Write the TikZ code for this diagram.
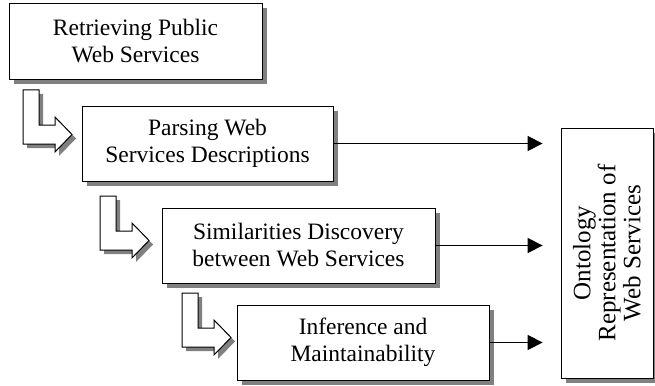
\documentclass[tikz,border=0pt]{standalone}
\usepackage{fontspec}
\setmainfont{Liberation Serif}
\usetikzlibrary{shadows,arrows.meta,calc}
\definecolor{shadowgray}{RGB}{128,128,128}
\tikzset{
  stepbox/.style={draw=black, fill=white, line width=0.8pt, align=center,
    font=\fontsize{23.5}{27}\selectfont, inner sep=0pt,
    drop shadow={shadow xshift=5pt, shadow yshift=-5pt, fill=shadowgray, opacity=1}},
  flow/.style={line width=1.3pt, -{Triangle[length=15pt,width=15pt]}},
  bentarrow/.pic={
    \fill[shadowgray, shift={(4,4)}] (0,0) -- (16,0) -- (16,35) -- (32,35) -- (32,27) -- (49,44.5) -- (32,62) -- (32,54) -- (0,54) -- cycle;
    \draw[fill=white, line width=1pt] (0,0) -- (16,0) -- (16,35) -- (32,35) -- (32,27) -- (49,44.5) -- (32,62) -- (32,54) -- (0,54) -- cycle;
  }
}
\begin{document}
\begin{tikzpicture}[x=1pt,y=-1pt]
\useasboundingbox (0,0) rectangle (655,385);
\node[stepbox, minimum width=253pt, minimum height=76pt] (b1) at (135.5,41) {Retrieving Public\\Web Services};
\node[stepbox, minimum width=251pt, minimum height=75pt] (b2) at (207.5,143.5) {Parsing Web\\Services Descriptions};
\node[stepbox, minimum width=273pt, minimum height=75pt] (b3) at (298.5,245.5) {Similarities Discovery\\between Web Services};
\node[stepbox, minimum width=252pt, minimum height=75pt] (b4) at (363,342.5) {Inference and\\Maintainability};
\node[stepbox, minimum width=92pt, minimum height=250pt] (o) at (607,253) {};
\node[rotate=90, align=center, font=\fontsize{25}{25}\selectfont] (ot) at (o.center) {Ontology\\Representation of\\Web Services};
\pic at (23,90) {bentarrow};
\pic at (100,196) {bentarrow};
\pic at (182,293) {bentarrow};
\coordinate (t2) at ($(b2.east -| o.west)+(-18,0)$);
\coordinate (t3) at ($(b3.east -| o.west)+(-18,0)$);
\coordinate (t4) at ($(b4.east -| o.west)+(-18,0)$);
\draw[flow] (b2.east) -- (t2);
\draw[flow] (b3.east) -- (t3);
\draw[flow] (b4.east) -- (t4);
\end{tikzpicture}
\end{document}
